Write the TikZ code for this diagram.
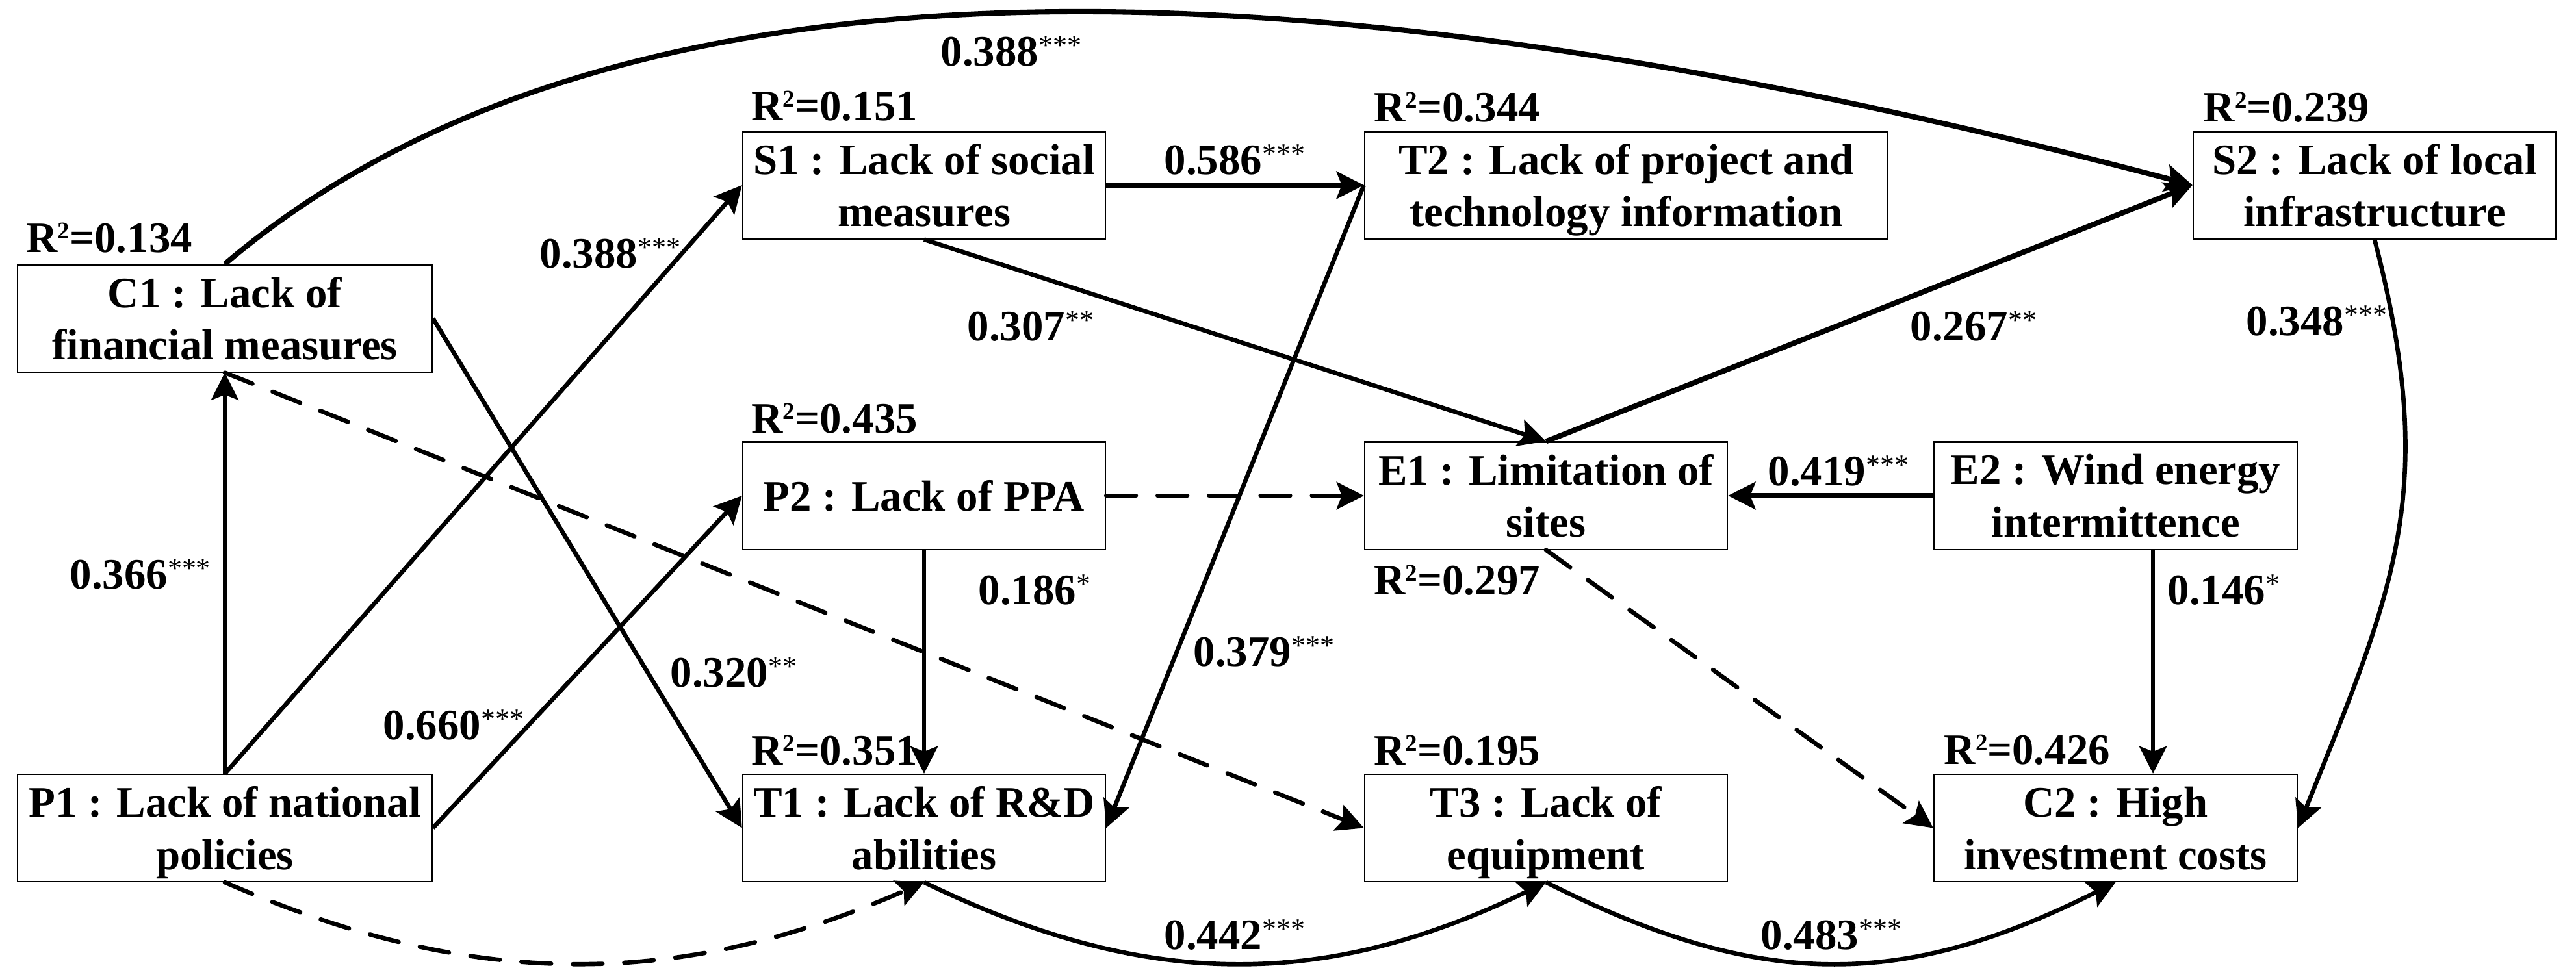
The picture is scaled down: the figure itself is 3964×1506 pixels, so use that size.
\documentclass[tikz,border=0pt]{standalone}
\usepackage{fontspec}
\setmainfont{Liberation Serif}
\usetikzlibrary{arrows.meta}
\newcommand\sig[1]{\raisebox{4.6pt}{\fontsize{12.5}{12.5}\selectfont\mdseries#1}}
\newcommand\rsq{R\raisebox{5.8pt}{\fontsize{10.5}{10.5}\selectfont 2}}
\begin{document}
\begin{tikzpicture}[x=0.01cm, y=-0.01cm,
  box/.style={draw, line width=0.6pt, inner sep=0pt, align=center, minimum height=1.65cm, text depth=0pt, font=\fontsize{19}{23}\selectfont\bfseries},
  lbl/.style={inner sep=0pt, anchor=base west, font=\fontsize{19}{23}\selectfont\bfseries},
  conn/.style={line width=1.9pt, -{Stealth[length=4.2mm,width=4.2mm,inset=0.8mm]}},
  thickconn/.style={conn, line width=2.3pt},
  dashconn/.style={conn, dash pattern=on 13pt off 9.5pt, line cap=round},
]
\useasboundingbox (0,0) rectangle (3964,1506);

% boxes
\node[box, minimum width=6.38cm] (C1) at (346,490) {C1 : Lack of\\financial measures};
\node[box, minimum width=6.38cm] (P1) at (346,1274.5) {P1 : Lack of national\\policies};
\node[box, minimum width=5.58cm] (S1) at (1422,285) {S1 : Lack of social\\measures};
\node[box, minimum width=5.58cm] (P2) at (1422,763) {P2 : Lack of PPA};
\node[box, minimum width=5.58cm] (T1) at (1422,1274.5) {T1 : Lack of R\&D\\abilities};
\node[box, minimum width=8.05cm] (T2) at (2502.5,285) {T2 : Lack of project and\\technology information};
\node[box, minimum width=5.58cm] (E1) at (2379,763) {E1 : Limitation of\\sites};
\node[box, minimum width=5.58cm] (T3) at (2379,1274.5) {T3 : Lack of\\equipment};
\node[box, minimum width=5.58cm] (S2) at (3654,285) {S2 : Lack of local\\infrastructure};
\node[box, minimum width=5.59cm] (E2) at (3255.5,763) {E2 : Wind energy\\intermittence};
\node[box, minimum width=5.59cm] (C2) at (3255.5,1274.5) {C2 : High\\investment costs};

% R squared labels
\node[lbl] (rC1) at (40,388) {\rsq=0.134};
\node[lbl] (rS1) at (1156,185) {\rsq=0.151};
\node[lbl] (rT2) at (2114,187) {\rsq=0.344};
\node[lbl] (rS2) at (3390,187) {\rsq=0.239};
\node[lbl] (rP2) at (1156,666) {\rsq=0.435};
\node[lbl] (rT1) at (1156,1177) {\rsq=0.351};
\node[lbl] (rE1) at (2114,915) {\rsq=0.297};
\node[lbl] (rT3) at (2114,1177) {\rsq=0.195};
\node[lbl] (rC2) at (2991,1176) {\rsq=0.426};

% connectors
\draw[thickconn] (C1.north) .. controls (1000,-150) and (2180,-30) .. (S2.west);
\draw[conn] (P1.north) -- (C1.south);
\draw[conn] (P1.north) -- (S1.west);
\draw[conn] (P1.east) -- (P2.west);
\draw[conn] (C1.east) -- (T1.west);
\draw[dashconn] (C1.south) -- (T3.west);
\draw[dashconn] (P1.south) .. controls (726,1524) and (1042,1524) .. (T1.south);
\draw[thickconn] (S1.east) -- (T2.west);
\draw[conn] (S1.south) -- (E1.north);
\draw[thickconn] (E1.north) -- (S2.west);
\draw[conn] (T2.west) -- (T1.east);
\draw[dashconn] (P2.east) -- (E1.west);
\draw[conn] (P2.south) -- (T1.north);
\draw[thickconn] (E2.west) -- (E1.east);
\draw[conn] ([xshift=0.575cm]E2.south) -- ([xshift=0.575cm]C2.north);
\draw[dashconn] (E1.south) -- (C2.west);
\draw[conn] (S2.south) .. controls (3754,755) and (3685,904) .. (C2.east);
\draw[conn] (T1.south) .. controls (1764,1524) and (2037,1524) .. (T3.south);
\draw[conn] (T3.south) .. controls (2709,1524) and (2925,1524) .. (C2.south);

% coefficient labels
\node[lbl] (l1) at (1447,101) {0.388\sig{***}};
\node[lbl] (l2) at (830,412) {0.388\sig{***}};
\node[lbl] (l3) at (1791,268) {0.586\sig{***}};
\node[lbl] (l4) at (1488,524) {0.307\sig{**}};
\node[lbl] (l5) at (2939,524) {0.267\sig{**}};
\node[lbl] (l6) at (3456,516) {0.348\sig{***}};
\node[lbl] (l7) at (107,906) {0.366\sig{***}};
\node[lbl] (l8) at (589,1138) {0.660\sig{***}};
\node[lbl] (l9) at (1031,1057) {0.320\sig{**}};
\node[lbl] (l10) at (1505,930) {0.186\sig{*}};
\node[lbl] (l11) at (1836,1025) {0.379\sig{***}};
\node[lbl] (l12) at (2720,747) {0.419\sig{***}};
\node[lbl] (l13) at (3335,930) {0.146\sig{*}};
\node[lbl] (l14) at (1791,1461) {0.442\sig{***}};
\node[lbl] (l15) at (2709,1461) {0.483\sig{***}};
\end{tikzpicture}
\end{document}
